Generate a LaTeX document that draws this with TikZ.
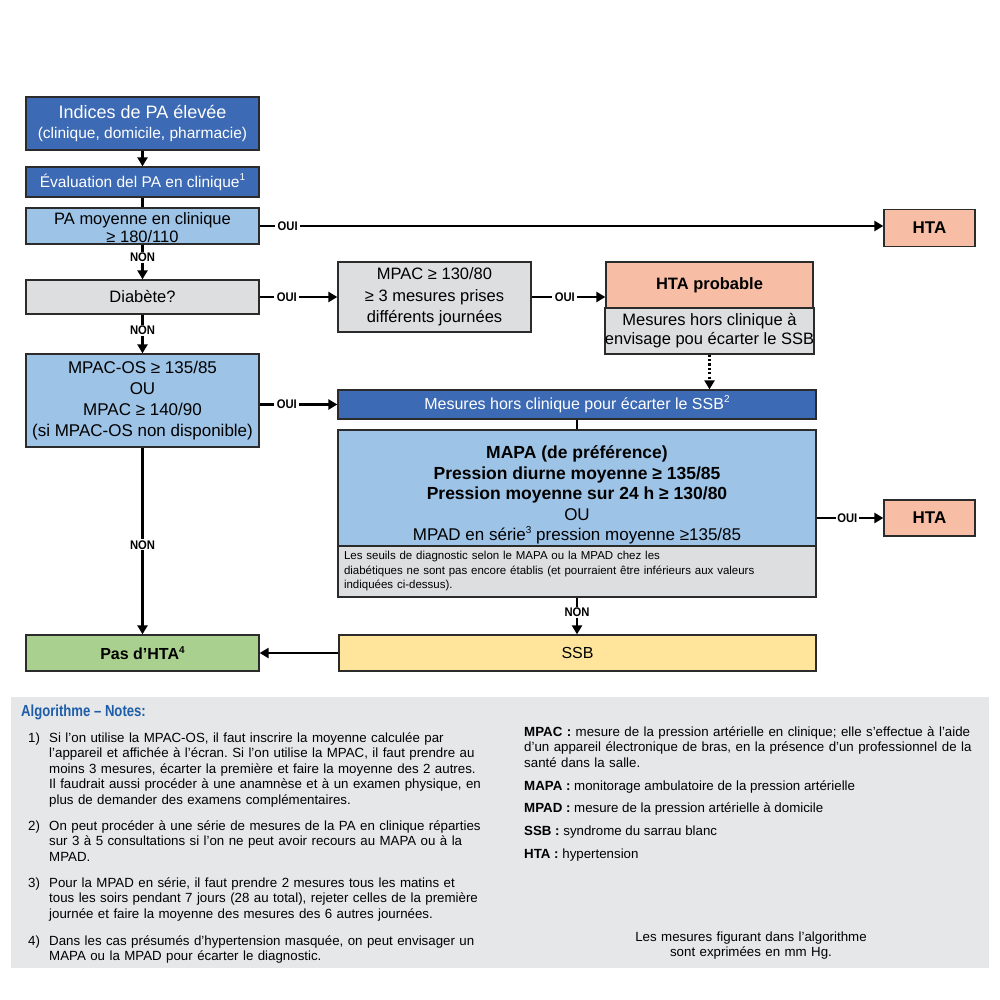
\documentclass[tikz,border=0pt]{standalone}
\usepackage{fontspec}
\setmainfont{Liberation Sans}
\usetikzlibrary{arrows.meta}
\definecolor{dblue}{HTML}{3D6AB4}
\definecolor{lblue}{HTML}{9DC3E6}
\definecolor{lgray}{HTML}{DDDEDF}
\definecolor{salmon}{HTML}{F8BEA5}
\definecolor{lgreen}{HTML}{A9D08E}
\definecolor{lyellow}{HTML}{FEE59B}
\definecolor{notebg}{HTML}{E6E7E8}
\definecolor{titleblue}{HTML}{1E5DA8}
\definecolor{bord}{HTML}{2B2B2B}
\newcommand{\fsz}[2]{\fontsize{#1}{#2}\selectfont}
\newcommand{\sups}[1]{\raisebox{0.42em}{\fontsize{10}{10}\selectfont #1}}
\frenchspacing
\begin{document}
\begin{tikzpicture}[x=1pt,y=-1pt,
 box/.style={draw=bord,line width=1.3pt,inner sep=0pt,align=center,text=black,font=\fsz{16.5}{20}},
 arr/.style={line width=2.3pt,-{Triangle[length=9pt,width=10pt]}},
 plainln/.style={line width=2.3pt},
 lab/.style={fill=white,inner sep=2.5pt,font=\bfseries\fsz{12.5}{13}},
 note/.style={anchor=base west,inner sep=0pt,font=\fsz{13.3}{15.5},align=left},
]
\fill[white] (0,0) rectangle (1000,1000);
\useasboundingbox (0,0) rectangle (1000,1000);

% boxes
\node[box,fill=dblue,text=white,minimum width=233pt,minimum height=53pt] (b1) at (142.5,123.5)
  {{\fsz{18}{20}Indices de PA élevée}\\{\fsz{15.5}{18}(clinique, domicile, pharmacie)}};
\node[box,fill=dblue,text=white,minimum width=233pt,minimum height=30pt,font=\fsz{15.5}{18}] (b2) at (142.5,182)
  {Évaluation del PA en clinique\sups{1}};
\node[box,fill=lblue,minimum width=233pt,minimum height=36pt,font=\fsz{16.5}{18}] (b3) at (142.5,226)
  {\rule{0pt}{15pt}PA moyenne en clinique\\≥ 180/110};
\node[box,fill=salmon,minimum width=91pt,minimum height=37pt,font=\bfseries\fsz{17}{20}] (hta1) at (929.5,228) {HTA};
\node[box,fill=lgray,minimum width=233pt,minimum height=34pt] (diab) at (142.5,297) {Diabète?};
\node[box,fill=lgray,minimum width=193pt,minimum height=70pt,font=\fsz{16.5}{21.5}] (mpac) at (434.5,297)
  {MPAC ≥ 130/80\\≥ 3 mesures prises\\différents journées};
\node[box,fill=salmon,minimum width=207pt,minimum height=46pt,font=\bfseries\fsz{16.5}{20}] (htap) at (709.5,285) {HTA probable};
\node[box,fill=lgray,minimum width=207pt,minimum height=46pt,font=\fsz{16.5}{19}] (htapsub) at (709.5,331)
  {Mesures hors clinique à\\envisage pou écarter le SSB};
\node[box,fill=lblue,minimum width=233pt,minimum height=93pt,font=\fsz{17}{21}] (mpacos) at (142.5,400.5)
  {MPAC-OS ≥ 135/85\\OU\\MPAC ≥ 140/90\\(si MPAC-OS non disponible)};
\node[box,fill=dblue,text=white,minimum width=478pt,minimum height=29pt,font=\fsz{16}{18}] (bar) at (577,404.5)
  {Mesures hors clinique pour écarter le SSB\sups{2}};
\node[box,fill=lblue,minimum width=478pt,minimum height=116pt,font=\fsz{17}{20.5}] (mapa) at (577,488)
  {\rule{0pt}{27pt}\textbf{\fsz{17.5}{20.5}MAPA (de préférence)}\\\textbf{\fsz{17.5}{20.5}Pression diurne moyenne ≥ 135/85}\\\textbf{\fsz{17.5}{20.5}Pression moyenne sur 24 h ≥ 130/80}\\OU\\MPAD en série\sups{3} pression moyenne ≥135/85};
\node[box,fill=lgray,minimum width=478pt,minimum height=51pt,text width=466pt,align=left,font=\fsz{11.5}{14.5}] (mapasub) at (577,571.5)
  {Les seuils de diagnostic selon le MAPA ou la MPAD chez les\\diabétiques ne sont pas encore établis (et pourraient être inférieurs aux valeurs\\indiquées ci-dessus).};
\node[box,fill=salmon,minimum width=91pt,minimum height=36pt,font=\bfseries\fsz{17}{20}] (hta2) at (929.5,518) {HTA};
\node[box,fill=lgreen,minimum width=233pt,minimum height=36pt,font=\bfseries\fsz{16}{20}] (pas) at (142.5,653) {Pas d’HTA\sups{4}};
\node[box,fill=lyellow,minimum width=477pt,minimum height=36pt,font=\fsz{16}{20}] (ssb) at (577.5,653) {SSB};

% connectors
\draw[arr] (b1.south) -- (b2.north);
\draw[plainln] (b2.south) -- (b3.north);
\draw[arr] (b3.east) -- (b3.east -| hta1.west) node[lab,pos=0.045] {\scalebox{0.9}[1]{OUI}};
\draw[arr] (b3.south) -- (diab.north) node[lab,pos=0.36,inner sep=1pt] {\scalebox{0.9}[1]{NON}};
\draw[arr] (diab.east) -- (mpac.west) node[lab,pos=0.35] {\scalebox{0.9}[1]{OUI}};
\draw[arr] (mpac.east) -- (mpac.east -| htap.west) node[lab,pos=0.45] {\scalebox{0.9}[1]{OUI}};
\draw[line width=2.5pt,dash pattern=on 2.2pt off 2.2pt,-{Triangle[length=9pt,width=10pt]}] (htapsub.south) -- (htapsub.south |- bar.north);
\draw[arr] (diab.south) -- (mpacos.north) node[lab,pos=0.4,inner sep=1pt] {\scalebox{0.9}[1]{NON}};
\draw[arr] (mpacos.east |- bar.west) -- (bar.west) node[lab,pos=0.35] {\scalebox{0.9}[1]{OUI}};
\draw[plainln] (bar.south) -- (mapa.north);
\draw[arr] (mapa.east |- hta2.west) -- (hta2.west) node[lab,pos=0.46,inner sep=1.5pt] {\scalebox{0.9}[1]{OUI}};
\draw[arr] (mapasub.south) -- (mapasub.south |- ssb.north) node[lab,pos=0.4,inner sep=1pt] {\scalebox{0.9}[1]{NON}};
\draw[arr] (mpacos.south) -- (pas.north) node[lab,pos=0.52,inner sep=1pt] {\scalebox{0.9}[1]{NON}};
\draw[arr] (ssb.west) -- (pas.east);

% notes panel
\fill[notebg] (11,697) rectangle (989,968);
\node[anchor=base west,inner sep=0pt,text=titleblue,font=\bfseries\fsz{16}{18}] (ntitle) at (21,716) {\scalebox{0.82}[1]{Algorithme – Notes:}};

\node[note] (n1) at (28,742) {1)};
\node[note,text width=450pt] (t1) at (49,742) {Si l’on utilise la MPAC-OS, il faut inscrire la moyenne calculée par\\l’appareil et affichée à l’écran. Si l’on utilise la MPAC, il faut prendre au\\moins 3 mesures, écarter la première et faire la moyenne des 2 autres.\\Il faudrait aussi procéder à une anamnèse et à un examen physique, en\\plus de demander des examens complémentaires.};
\node[note] (n2) at (28,830) {2)};
\node[note,text width=450pt] (t2) at (49,830) {On peut procéder à une série de mesures de la PA en clinique réparties\\sur 3 à 5 consultations si l’on ne peut avoir recours au MAPA ou à la\\MPAD.};
\node[note] (n3) at (28,887) {3)};
\node[note,text width=450pt] (t3) at (49,887) {Pour la MPAD en série, il faut prendre 2 mesures tous les matins et\\tous les soirs pendant 7 jours (28 au total), rejeter celles de la première\\journée et faire la moyenne des mesures des 6 autres journées.};
\node[note] (n4) at (28,945) {4)};
\node[note,text width=450pt] (t4) at (49,945) {Dans les cas présumés d’hypertension masquée, on peut envisager un\\MAPA ou la MPAD pour écarter le diagnostic.};

\node[note,text width=460pt] (g1) at (524,736) {\textbf{MPAC :} mesure de la pression artérielle en clinique; elle s’effectue à l’aide\\d’un appareil électronique de bras, en la présence d’un professionnel de la\\santé dans la salle.};
\node[note] (g2) at (524,790) {\textbf{MAPA :} monitorage ambulatoire de la pression artérielle};
\node[note] (g3) at (524,812) {\textbf{MPAD :} mesure de la pression artérielle à domicile};
\node[note] (g4) at (524,835) {\textbf{SSB :} syndrome du sarrau blanc};
\node[note] (g5) at (524,858) {\textbf{HTA :} hypertension};
\node[note,anchor=base,text width=300pt,align=center] (unit) at (751,941) {Les mesures figurant dans l’algorithme\\sont exprimées en mm Hg.};
\end{tikzpicture}
\end{document}
